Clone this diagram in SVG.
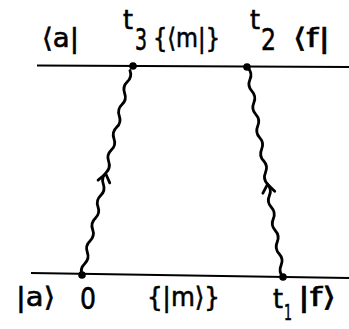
<svg xmlns="http://www.w3.org/2000/svg" width="349" height="329" viewBox="0 0 349 329">
<style>
.lbl{font-family:"DejaVu Sans","Liberation Sans",sans-serif;font-size:27px;fill:#000;stroke:#000;stroke-width:0.6}
.num{font-size:30px}
.sub{font-size:22px}
.line{stroke:#000;stroke-width:2.2;fill:none}
.wave{stroke:#000;stroke-width:2.8;fill:none;stroke-linecap:round;stroke-linejoin:round}
.dot{fill:#000}
</style>
<rect width="349" height="329" fill="#fff"/>
<g id="top-level">
<line class="line" x1="37" y1="65.5" x2="349" y2="67"/>
</g>
<g id="bottom-level">
<line class="line" x1="31" y1="273" x2="349" y2="278"/>
</g>
<g id="connectors">
<path class="wave" transform="translate(82,275) rotate(-76.8)" d="M0,0 q5.83,-3.8 11.67,0 t11.67,0 t11.67,0 t11.67,0 t11.67,0 t11.67,0 t11.67,0 t11.67,0 t11.67,0 t11.67,0 t11.67,0 t11.67,0 t11.67,0 t11.67,0 t11.67,0 t11.67,0 t11.67,0 t11.67,0"/>
<path class="wave" transform="translate(82,275) rotate(-76.8)" d="M96,-6 L104,0 L96,6"/>
<path class="wave" transform="translate(283,277) rotate(-99.5)" d="M0,0 q5.89,-3.8 11.78,0 t11.78,0 t11.78,0 t11.78,0 t11.78,0 t11.78,0 t11.78,0 t11.78,0 t11.78,0 t11.78,0 t11.78,0 t11.78,0 t11.78,0 t11.78,0 t11.78,0 t11.78,0 t11.78,0 t11.78,0"/>
<path class="wave" transform="translate(283,277) rotate(-99.5)" d="M86,-6 L94,0 L86,6"/>
</g>
<g id="node-a-top"><circle class="dot" cx="133" cy="66" r="3.8"/></g>
<g id="node-f-top"><circle class="dot" cx="247" cy="67" r="3.8"/></g>
<g id="node-a-bottom"><circle class="dot" cx="82" cy="275" r="3.8"/></g>
<g id="node-f-bottom"><circle class="dot" cx="283" cy="277" r="3.8"/></g>
<g id="labels-top">
<text class="lbl" x="42" y="47" textLength="37" lengthAdjust="spacingAndGlyphs">⟨a|</text>
<text class="lbl" x="123" y="29" textLength="10" lengthAdjust="spacingAndGlyphs">t</text>
<text class="lbl num" x="135" y="50" textLength="12" lengthAdjust="spacingAndGlyphs">3</text>
<text class="lbl" x="153" y="47" textLength="67" lengthAdjust="spacingAndGlyphs">{⟨m|}</text>
<text class="lbl" x="250" y="29" textLength="10" lengthAdjust="spacingAndGlyphs">t</text>
<text class="lbl num" x="261" y="50" textLength="15" lengthAdjust="spacingAndGlyphs">2</text>
<text class="lbl" x="293" y="47" textLength="37" lengthAdjust="spacingAndGlyphs">⟨f|</text>
</g>
<g id="labels-bottom">
<text class="lbl" x="16" y="306" textLength="39" lengthAdjust="spacingAndGlyphs">|a⟩</text>
<text class="lbl num" x="80" y="309" textLength="16" lengthAdjust="spacingAndGlyphs">0</text>
<text class="lbl" x="147" y="306" textLength="73" lengthAdjust="spacingAndGlyphs">{|m⟩}</text>
<text class="lbl" x="273" y="308" textLength="10" lengthAdjust="spacingAndGlyphs">t</text>
<text class="lbl sub" x="284" y="320" textLength="8" lengthAdjust="spacingAndGlyphs">1</text>
<text class="lbl" x="298" y="306" textLength="38" lengthAdjust="spacingAndGlyphs">|f⟩</text>
</g>
</svg>
